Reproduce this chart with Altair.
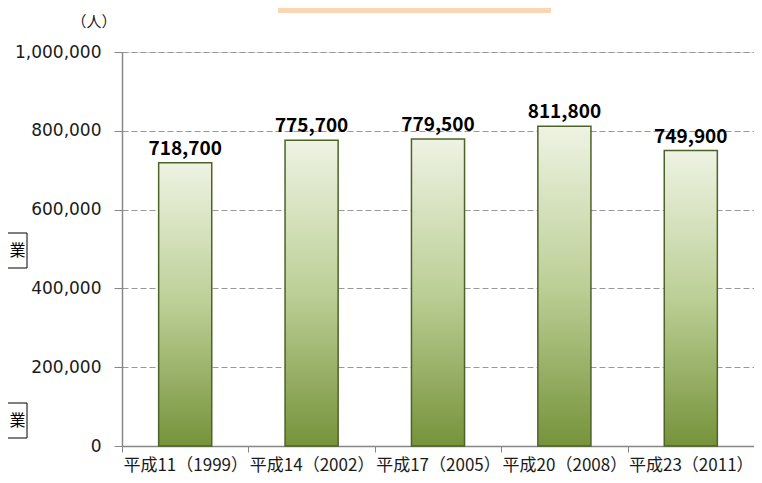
import altair as alt
import pandas as pd

categories = ["平成11（1999）", "平成14（2002）", "平成17（2005）", "平成20（2008）", "平成23（2011）"]
values = [718700, 775700, 779500, 811800, 749900]
y_ticks = [0, 200000, 400000, 600000, 800000, 1000000]
unit_label = "（人）"
side_box_text = "業"

df = pd.DataFrame({"cat": categories, "val": values})
one = pd.DataFrame({"k": [0]})

W, H = 632, 394
JP = "Noto Sans CJK JP"

x_enc = alt.X("cat:N", sort=categories, title=None,
              scale=alt.Scale(paddingInner=0, paddingOuter=0),
              axis=alt.Axis(labelAngle=0, labelFont=JP, labelFontSize=17, labelColor="#1a1a1a",
                            domainColor="#868686", domainWidth=1.5, tickColor="#868686",
                            tickSize=6, tickBand="extent", labelPadding=5))
y_enc = alt.Y("val:Q", title=None,
              scale=alt.Scale(domain=[0, 1000000], nice=False),
              axis=alt.Axis(values=y_ticks, format=",.0f", labelFont="DejaVu Sans", labelFontSize=17,
                            labelColor="#1a1a1a", labelPadding=13, tickSize=8, tickColor="#868686",
                            domainColor="#868686", domainWidth=1.5,
                            grid=True, gridColor="#999999", gridDash=[6, 3], gridWidth=1))

grad = alt.Gradient(gradient="linear", x1=0, x2=0, y1=0, y2=1,
                    stops=[alt.GradientStop(offset=0, color="#EEF3E3"),
                           alt.GradientStop(offset=0.5, color="#BCCF96"),
                           alt.GradientStop(offset=1, color="#76933B")])

bars = alt.Chart(df).mark_bar(color=grad, stroke="#4F6228", strokeWidth=1.5,
                              width={"band": 0.42}).encode(x=x_enc, y=y_enc)

labels = alt.Chart(df).mark_text(font=JP, fontSize=19, fontWeight="bold", color="#000000",
                                 baseline="alphabetic", dy=-8).encode(
    x=alt.X("cat:N", sort=categories),
    y=alt.Y("val:Q"),
    text=alt.Text("val:Q", format=",.0f"))

title_box = alt.Chart(one).mark_rect(color="#FCD5B4").encode(
    x=alt.value(156), x2=alt.value(429), y=alt.value(-60), y2=alt.value(-39))

unit = alt.Chart(one).mark_text(font=JP, fontSize=15, color="#1a1a1a").encode(
    x=alt.value(-28), y=alt.value(-30), text=alt.value(unit_label))

side_boxes = alt.Chart(one).mark_rect(fill="white", stroke="#000000", strokeWidth=1).encode(
    x=alt.value(-140), x2=alt.value(-95), y=alt.value(181), y2=alt.value(216))
side_boxes2 = alt.Chart(one).mark_rect(fill="white", stroke="#000000", strokeWidth=1).encode(
    x=alt.value(-140), x2=alt.value(-95), y=alt.value(351), y2=alt.value(386))
side_t1 = alt.Chart(one).mark_text(font=JP, fontSize=16, color="#000000").encode(
    x=alt.value(-104.5), y=alt.value(199), text=alt.value(side_box_text))
side_t2 = alt.Chart(one).mark_text(font=JP, fontSize=16, color="#000000").encode(
    x=alt.value(-104.5), y=alt.value(369), text=alt.value(side_box_text))

chart = alt.layer(bars, labels, title_box, unit, side_boxes, side_boxes2, side_t1, side_t2).properties(
    width=W, height=H,
    autosize=alt.AutoSizeParams(type="none"),
    padding={"left": 114, "top": 44, "right": 0, "bottom": 29},
).configure_view(strokeWidth=0).configure(background="white")

chart.save("out.html", embed_options={"renderer": "svg", "actions": False})
